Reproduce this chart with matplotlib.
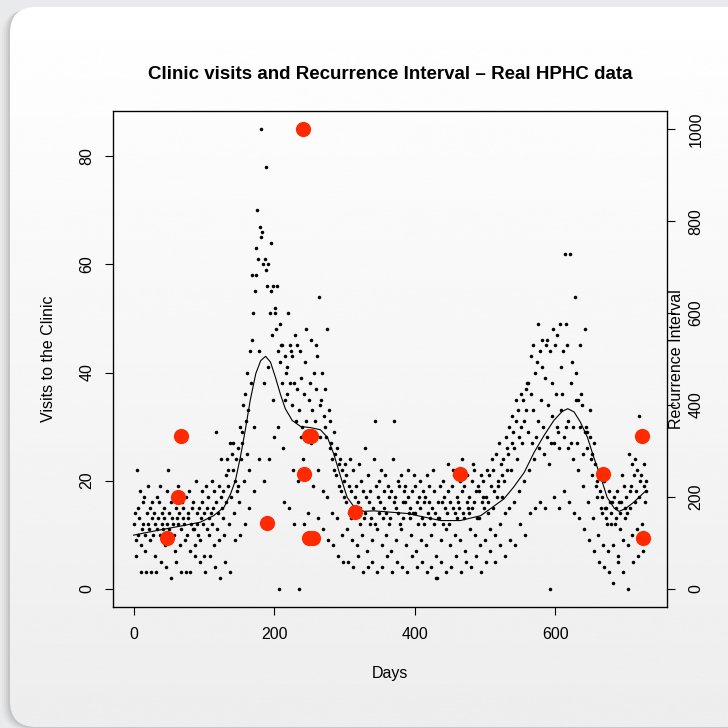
import numpy as np
import matplotlib
matplotlib.use("Agg")
import matplotlib.pyplot as plt
from matplotlib.patches import FancyBboxPatch

plt.rcParams['font.family'] = ['Liberation Sans', 'DejaVu Sans']

# daily clinic visits, days 1..730, one week per row
visits = [
    12, 14, 9, 6, 22, 10, 15,
    13, 18, 8, 3, 11, 16, 12,
    17, 10, 7, 3, 14, 12, 19,
    11, 15, 9, 3, 13, 16, 10,
    14, 12, 6, 3, 17, 11, 13,
    16, 19, 10, 5, 12, 14, 11,
    13, 15, 8, 4, 18, 12, 22,
    14, 11, 9, 2, 16, 13, 12,
    10, 17, 7, 5, 15, 13, 19,
    12, 14, 8, 3, 11, 16, 13,
    15, 12, 9, 3, 17, 10, 14,
    13, 18, 7, 3, 12, 15, 11,
    16, 11, 8, 6, 20, 14, 12,
    10, 15, 9, 5, 13, 18, 16,
    12, 14, 6, 3, 19, 11, 15,
    17, 13, 10, 6, 14, 12, 20,
    15, 18, 8, 4, 29, 16, 11,
    14, 19, 9, 2, 17, 24, 15,
    18, 13, 10, 5, 21, 16, 24,
    19, 22, 12, 3, 27, 17, 25,
    22, 27, 14, 9, 20, 24, 18,
    26, 19, 16, 10, 30, 24, 27,
    29, 34, 20, 12, 36, 31, 25,
    40, 33, 22, 15, 44, 38, 58,
    46, 51, 30, 18, 55, 63, 58,
    70, 61, 44, 24, 67, 85, 65,
    66, 60, 38, 20, 61, 78, 59,
    56, 60, 41, 24, 51, 64, 55,
    47, 56, 35, 28, 52, 51, 48,
    56, 44, 30, 0, 49, 42, 45,
    38, 45, 26, 16, 43, 35, 40,
    36, 41, 51, 15, 38, 45, 44,
    34, 43, 22, 12, 38, 47, 31,
    45, 37, 20, 0, 33, 44, 28,
    39, 30, 24, 12, 36, 42, 31,
    48, 29, 21, 14, 35, 38, 27,
    46, 33, 19, 10, 40, 31, 45,
    37, 43, 22, 13, 54, 34, 28,
    35, 40, 18, 11, 32, 37, 30,
    28, 48, 17, 9, 33, 26, 31,
    27, 24, 14, 8, 29, 22, 25,
    21, 26, 13, 6, 23, 19, 24,
    18, 22, 10, 5, 20, 17, 23,
    16, 21, 11, 5, 19, 14, 24,
    13, 18, 9, 4, 22, 15, 17,
    19, 14, 8, 6, 16, 23, 12,
    15, 20, 10, 3, 18, 13, 26,
    14, 17, 7, 4, 21, 16, 12,
    18, 13, 9, 5, 15, 24, 31,
    12, 19, 11, 3, 17, 14, 20,
    16, 22, 8, 4, 13, 18, 15,
    21, 14, 10, 6, 19, 12, 17,
    13, 18, 7, 3, 24, 31, 16,
    17, 15, 9, 5, 14, 20, 19,
    12, 21, 11, 4, 16, 13, 18,
    19, 16, 8, 3, 22, 17, 14,
    15, 13, 10, 6, 18, 14, 21,
    14, 19, 7, 4, 16, 12, 17,
    20, 15, 9, 5, 13, 18, 16,
    12, 17, 8, 3, 21, 14, 19,
    16, 13, 10, 4, 15, 22, 12,
    18, 14, 6, 2, 2, 13, 16,
    13, 19, 9, 5, 16, 12, 20,
    17, 15, 11, 3, 14, 23, 18,
    12, 16, 8, 4, 19, 15, 22,
    21, 14, 10, 6, 17, 13, 16,
    15, 20, 9, 3, 24, 18, 14,
    19, 13, 7, 5, 16, 21, 15,
    14, 17, 11, 4, 20, 15, 23,
    16, 22, 10, 6, 18, 13, 19,
    13, 18, 8, 3, 21, 16, 17,
    20, 15, 9, 5, 17, 22, 14,
    16, 21, 11, 7, 19, 24, 15,
    22, 18, 10, 5, 25, 17, 20,
    19, 27, 12, 8, 23, 21, 17,
    24, 20, 14, 6, 28, 22, 26,
    25, 30, 15, 9, 22, 27, 32,
    29, 26, 16, 8, 31, 35, 24,
    33, 28, 18, 12, 30, 36, 27,
    35, 31, 20, 10, 37, 33, 38,
    38, 29, 22, 14, 36, 43, 27,
    45, 33, 24, 15, 40, 28, 42,
    31, 49, 26, 16, 44, 35, 46,
    41, 30, 25, 15, 39, 45, 28,
    46, 34, 23, 0, 44, 27, 38,
    32, 48, 27, 17, 45, 36, 30,
    47, 29, 26, 15, 49, 33, 41,
    36, 44, 28, 18, 62, 30, 49,
    45, 31, 26, 16, 62, 38, 27,
    42, 30, 24, 14, 54, 35, 40,
    27, 35, 22, 13, 45, 30, 36,
    34, 25, 19, 11, 48, 29, 30,
    29, 26, 16, 9, 33, 28, 24,
    25, 21, 13, 7, 27, 23, 19,
    20, 17, 10, 5, 22, 18, 15,
    17, 14, 8, 4, 20, 15, 13,
    15, 12, 7, 3, 18, 16, 12,
    14, 16, 8, 1, 17, 12, 15,
    13, 18, 6, 5, 16, 14, 11,
    16, 21, 9, 3, 19, 15, 13,
    17, 14, 8, 0, 25, 18, 15,
    19, 23, 10, 5, 21, 16, 24,
    18, 22, 11, 6, 32, 17, 20,
    21, 28, 12, 7, 19, 23, 16,
    20, 18,
]
days = np.arange(1, len(visits) + 1)

# smoothed curve (traced)
smooth_days = [0, 35, 72, 95, 114, 129, 138, 145, 152, 159, 166, 174, 181, 188,
               195, 202, 209, 216, 226, 238, 252, 266, 276, 285, 295, 304, 314,
               328, 342, 390, 437, 465, 494, 508, 527, 541, 556, 570, 584, 598,
               610, 618, 627, 636, 646, 655, 665, 674, 684, 691, 700, 712, 729]
smooth_vals = [9.9, 10.8, 11.7, 12.3, 13.5, 15.1, 17.5, 20.0, 24.3, 29.3, 34.8,
               39.8, 42.2, 43.0, 41.9, 39.1, 36.0, 33.3, 31.1, 30.0, 29.8, 29.4,
               28.0, 24.9, 20.6, 16.9, 15.1, 14.3, 14.4, 13.9, 12.6, 12.6, 13.5,
               14.8, 16.6, 18.8, 21.5, 25.2, 28.3, 31.1, 32.8, 33.3, 32.7, 30.8,
               28.0, 24.3, 20.6, 16.9, 14.9, 14.3, 14.8, 16.0, 18.1]

# recurrence interval events
rec_days = [48, 64, 67, 190, 241, 243, 250, 253, 250, 256, 315, 464, 668, 724, 725]
rec_vals = [111, 200, 333, 143, 1000, 250, 333, 333, 111, 111, 167, 250, 250, 333, 111]

W = 728
fig = plt.figure(figsize=(7.28, 7.28), dpi=100)
fig.patch.set_facecolor('#e9eaeb')

# card background with soft shadow
bg = fig.add_axes([0, 0, 1, 1], zorder=-1)
bg.set_xlim(0, W)
bg.set_ylim(0, W)
bg.axis('off')
for off, a in [(8, 0.025), (6, 0.035), (4, 0.045), (2, 0.06)]:
    sh = FancyBboxPatch((10 - off, 1 - off * 0.4), 760, 720,
                        boxstyle="round,pad=0,rounding_size=26",
                        fc='black', ec='none', alpha=a, zorder=0)
    bg.add_patch(sh)
card = FancyBboxPatch((10, 1), 760, 720, boxstyle="round,pad=0,rounding_size=26",
                      fc='none', ec='none', zorder=1)
bg.add_patch(card)
grad = np.linspace(0.93, 1.0, 256).reshape(-1, 1)
im = bg.imshow(grad, extent=[0, W, 0, W], origin='lower', cmap='gray', vmin=0, vmax=1,
               aspect='auto', interpolation='bicubic', zorder=2)
im.set_clip_path(card)

ax = fig.add_axes([113 / W, (W - 607) / W, 554 / W, 496 / W])
ax.set_facecolor('none')
ax.scatter(days, visits, s=6.5, c='black', linewidths=0, zorder=2)
ax.plot(smooth_days, smooth_vals, color='black', lw=0.8, zorder=3)
ax.set_xlim(-29.2, 759.2)
ax.set_ylim(-3.4, 88.4)
ax.set_xticks([0, 200, 400, 600])
ax.set_yticks([0, 20, 40, 60, 80])
ax.tick_params(length=5.5, width=0.8, labelsize=11.5)
ax.tick_params(axis='x', pad=9)
ax.tick_params(axis='y', pad=8)
plt.setp(ax.get_yticklabels(), rotation=90, va='center')
for sp in ax.spines.values():
    sp.set_linewidth(0.9)
ax.set_xlabel('Days', fontsize=11.5, labelpad=17)
ax.set_ylabel('Visits to the Clinic', fontsize=11.5, labelpad=17)
ax.set_title('Clinic visits and Recurrence Interval \u2013 Real HPHC data',
             fontsize=13.5, fontweight='bold', pad=23)

ax2 = ax.twinx()
ax2.scatter(rec_days, rec_vals, s=120, c='#ff2a00', linewidths=0, zorder=4)
ax2.set_ylim(-40, 1040)
ax2.set_yticks([0, 200, 400, 600, 800, 1000])
ax2.tick_params(length=5.5, width=0.8, labelsize=11.5, pad=10)
plt.setp(ax2.get_yticklabels(), rotation=90, va='center')
ax2.text(1.0165, 0.5, 'Recurrence Interval', transform=ax2.transAxes, rotation=90,
         ha='center', va='center', fontsize=11.5)

fig.savefig('out.png', dpi=100)
